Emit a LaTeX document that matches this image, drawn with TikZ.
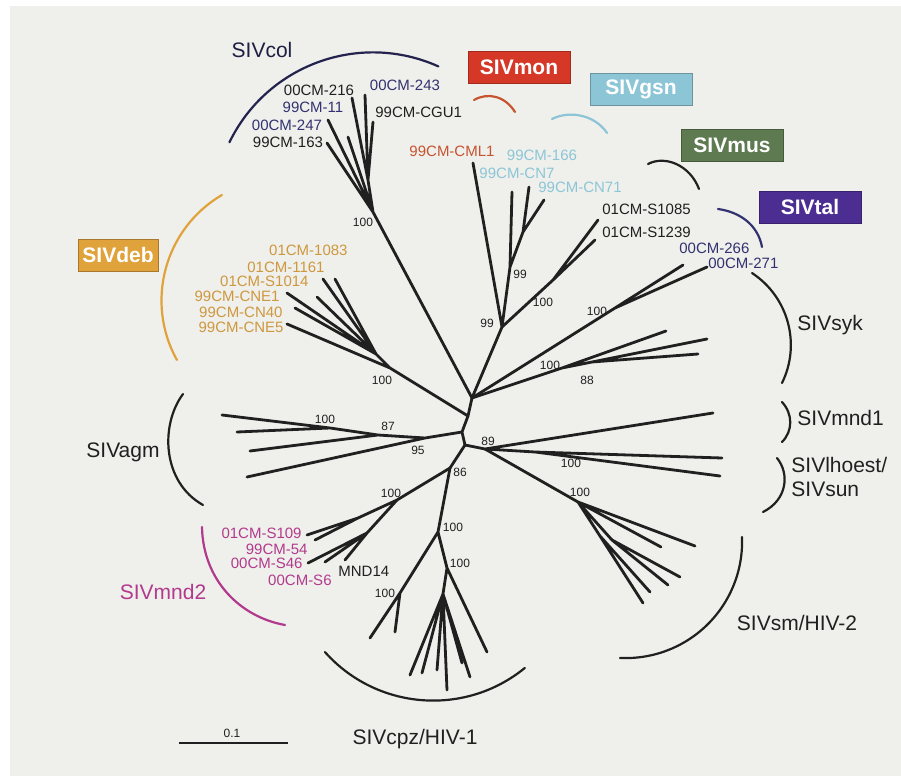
\documentclass[tikz,border=0pt]{standalone}
\usepackage{fontspec}
\setmainfont{Liberation Sans}
\usetikzlibrary{positioning}
\definecolor{bgGrey}{RGB}{239,239,236}
\definecolor{cInk}{RGB}{32,32,32}
\definecolor{cNavy}{RGB}{50,50,112}
\definecolor{cDeb}{RGB}{224,162,58}
\definecolor{cDebTxt}{RGB}{206,152,62}
\definecolor{cMon}{RGB}{214,56,40}
\definecolor{cMonArc}{RGB}{198,84,46}
\definecolor{cGsn}{RGB}{140,198,214}
\definecolor{cMus}{RGB}{94,122,80}
\definecolor{cTal}{RGB}{76,46,146}
\definecolor{cMnd}{RGB}{178,58,140}

\begin{document}
\begin{tikzpicture}[x=0.5pt,y=-0.5pt,
  br/.style={draw=cInk,line width=1.4pt,line cap=round},
  brk/.style={line width=1.1pt,line cap=round},
  lab/.style={inner sep=0pt,font=\fontsize{7.5}{8}\selectfont},
  bs/.style={inner sep=0pt,font=\fontsize{6}{7}\selectfont,text=cInk},
  clade/.style={inner sep=0pt,font=\fontsize{10.5}{12}\selectfont,text=cInk},
  tag/.style={draw=#1!75!black,fill=#1,text=white,font=\fontsize{10.5}{12}\selectfont\bfseries,
    minimum width=51pt,minimum height=16pt,inner sep=0pt}]
  \useasboundingbox (0,0) rectangle (901,776);
  \fill[white] (0,0) rectangle (901,776);
  \fill[bgGrey] (10,6) rectangle (901,776);

  % inner nodes
  \coordinate (n1) at (472,398);
  \coordinate (n2) at (468,416);
  \coordinate (n3) at (462,432);
  \coordinate (n4) at (465,445);
  % SIVcol
  \coordinate (col) at (373,212);
  \coordinate (colA) at (368,180);
  \coordinate (c163) at (327,143);
  \coordinate (c247) at (328,120);
  \coordinate (cX) at (348,137);
  \coordinate (c216) at (352,98);
  \coordinate (c243) at (365,95);
  \coordinate (cCGU) at (373,122);
  % SIVdeb
  \coordinate (deb) at (390,368);
  \coordinate (debA) at (376,354);
  \coordinate (dCNE1) at (287,293);
  \coordinate (dCN40) at (295,308);
  \coordinate (dCNE5) at (287,324);
  \coordinate (dS1014) at (323,279);
  \coordinate (d1161) at (335,279);
  \coordinate (dX) at (317,297);
  % SIVmon / SIVgsn / SIVmus
  \coordinate (mg) at (502,327);
  \coordinate (cml) at (473,163);
  \coordinate (gsn) at (510,267);
  \coordinate (gsnA) at (523,232);
  \coordinate (g166) at (512,192);
  \coordinate (gCN7) at (529,187);
  \coordinate (gCN71) at (544,200);
  \coordinate (mus) at (553,280);
  \coordinate (m1085) at (598,220);
  \coordinate (m1239) at (595,240);
  % SIVtal / SIVsyk
  \coordinate (tal) at (615,308);
  \coordinate (t266) at (683,265);
  \coordinate (t271) at (707,267);
  \coordinate (syk) at (562,368);
  \coordinate (sykA) at (592,362);
  \coordinate (s1) at (666,331);
  \coordinate (s2) at (707,339);
  \coordinate (s3) at (698,354);
  % SIVagm
  \coordinate (a95) at (425,438);
  \coordinate (a87) at (378,435);
  \coordinate (a100) at (330,428);
  \coordinate (ag1) at (222,415);
  \coordinate (ag2) at (237,432);
  \coordinate (ag3) at (250,451);
  \coordinate (ag4) at (247,477);
  % SIVmnd1 / SIVlhoest / SIVsm
  \coordinate (b89) at (485,449);
  \coordinate (mnd1) at (713,413);
  \coordinate (lh) at (535,452);
  \coordinate (lh1) at (722,458);
  \coordinate (lh2) at (720,476);
  \coordinate (sm) at (578,502);
  \coordinate (smA) at (612,540);
  \coordinate (smB) at (600,536);
  \coordinate (sm1) at (695,546);
  \coordinate (sm2) at (661,547);
  \coordinate (sm3) at (680,577);
  \coordinate (sm4) at (668,585);
  \coordinate (sm5) at (650,592);
  \coordinate (sm6) at (643,603);
  % SIVmnd2
  \coordinate (b86) at (450,468);
  \coordinate (mn) at (397,500);
  \coordinate (mnA) at (358,518);
  \coordinate (mnB) at (367,533);
  \coordinate (mS109) at (307,535);
  \coordinate (m54) at (315,540);
  \coordinate (mS46) at (308,563);
  \coordinate (mS6) at (325,562);
  \coordinate (mMND) at (345,560);
  % SIVcpz
  \coordinate (cz1) at (438,532);
  \coordinate (cz2) at (447,568);
  \coordinate (czL) at (400,593);
  \coordinate (czA) at (443,594);
  \coordinate (cl1) at (370,638);
  \coordinate (cl2) at (395,632);
  \coordinate (cr1) at (487,652);
  \coordinate (cr2) at (470,677);
  \coordinate (cr3) at (462,663);
  \coordinate (cr4) at (447,690);
  \coordinate (cr5) at (437,670);
  \coordinate (cr6) at (422,673);
  \coordinate (cr7) at (410,675);

  % branches
  \draw[br] (n1) -- (n2) -- (n3) -- (n4);
  \draw[br] (n1) -- (col) (col) -- (c163) (col) -- (c247) (col) -- (cX) (col) -- (colA)
    (colA) -- (c216) (colA) -- (c243) (colA) -- (cCGU);
  \draw[br] (n2) -- (deb) (deb) -- (dCNE5) (deb) -- (debA) (debA) -- (dCNE1) (debA) -- (dCN40)
    (debA) -- (dX) (debA) -- (dS1014) (debA) -- (d1161);
  \draw[br] (n1) -- (mg) (mg) -- (cml) (mg) -- (gsn) (gsn) -- (g166) (gsn) -- (gsnA)
    (gsnA) -- (gCN7) (gsnA) -- (gCN71) (mg) -- (mus) (mus) -- (m1085) (mus) -- (m1239);
  \draw[br] (n1) -- (tal) (tal) -- (t266) (tal) -- (t271);
  \draw[br] (n1) -- (syk) (syk) -- (s1) (syk) -- (sykA) (sykA) -- (s2) (sykA) -- (s3);
  \draw[br] (n3) -- (a95) (a95) -- (ag4) (a95) -- (a87) (a87) -- (ag3) (a87) -- (a100)
    (a100) -- (ag1) (a100) -- (ag2);
  \draw[br] (n4) -- (b89) (b89) -- (mnd1) (b89) -- (lh) (lh) -- (lh1) (lh) -- (lh2);
  \draw[br] (b89) -- (sm) (sm) -- (sm1) (sm) -- (sm2) (sm) -- (smA) (smA) -- (sm3) (smA) -- (sm4)
    (sm) -- (smB) (smB) -- (sm5) (smB) -- (sm6);
  \draw[br] (n4) -- (b86) (b86) -- (mn) (mn) -- (mnA) (mnA) -- (mS109) (mnA) -- (m54)
    (mn) -- (mnB) (mnB) -- (mS46) (mnB) -- (mS6) (mnB) -- (mMND);
  \draw[br] (b86) -- (cz1) (cz1) -- (czL) (czL) -- (cl1) (czL) -- (cl2) (cz1) -- (cz2)
    (cz2) -- (cr1) (cz2) -- (czA) (czA) -- (cr2) (czA) -- (cr3) (czA) -- (cr4) (czA) -- (cr5)
    (czA) -- (cr6) (czA) -- (cr7);

  % clade brackets
  \draw[brk,cNavy!70!black] (col) ++(205.9:159.6) arc[start angle=205.9,end angle=294.2,radius=159.6];
  \draw[brk,cDeb] (283.8,300.5) ++(239.6:122.3) arc[start angle=239.6,end angle=150.9,radius=122.3];
  \draw[brk,cMonArc] (474,100) .. controls (488,92) and (505,96) .. (515,112);
  \draw[brk,cGsn] (552,119) .. controls (570,110) and (595,115) .. (607,133);
  \draw[brk,cInk] (648,164) .. controls (665,155) and (690,165) .. (699,189);
  \draw[brk,cNavy] (718,209) .. controls (740,212) and (758,225) .. (762,247);
  \draw[brk,cInk] (704.75,345) ++(-56.7:86.1) arc[start angle=-56.7,end angle=26.2,radius=86.1];
  \draw[brk,cInk] (782,402) .. controls (793,414) and (793,431) .. (782,442);
  \draw[brk,cInk] (777,458) .. controls (790,474) and (787,500) .. (763,512);
  \draw[brk,cInk] (625.7,541.7) ++(-2.3:116.4) arc[start angle=-2.3,end angle=92.8,radius=116.4];
  \draw[brk,cInk] (433.2,555.6) ++(138.3:145) arc[start angle=138.3,end angle=50.8,radius=145];
  \draw[brk,cMnd] (202,527) .. controls (203,580) and (240,617) .. (285,625);
  \draw[brk,cInk] (183,394) .. controls (160,425) and (162,482) .. (203,505);

  % clade names
  \node[clade,text=cNavy!60!black] (tCol) at (262,50) {SIVcol};
  \node[tag=cMon] (tMon) at (519,67) {SIVmon};
  \node[tag=cGsn] (tGsn) at (641,89) {SIVgsn};
  \node[tag=cMus] (tMus) at (732,145) {SIVmus};
  \node[tag=cTal] (tTal) at (810,207) {SIVtal};
  \node[tag=cDeb,minimum width=40pt] (tDeb) at (118,255) {SIVdeb};
  \node[clade,anchor=west] (tSyk) at (797,325) {SIVsyk};
  \node[clade,anchor=west] (tMnd1) at (797,418) {SIVmnd1};
  \node[clade,anchor=north west,align=left] (tLh) at (791,457) {SIVlhoest/\\SIVsun};
  \node[clade] (tSm) at (797,623) {SIVsm/HIV-2};
  \node[clade] (tCpz) at (415,739) {SIVcpz/HIV-1};
  \node[clade] (tAgm) at (123,452) {SIVagm};
  \node[clade,text=cMnd] (tMnd2) at (163,592) {SIVmnd2};

  % isolates
  \node[lab,text=cInk] (l216) at (319,90) {00CM-216};
  \node[lab,text=cNavy] (l11) at (313,107) {99CM-11};
  \node[lab,text=cNavy] (l247) at (287,125) {00CM-247};
  \node[lab,text=cInk] (l163) at (288,142) {99CM-163};
  \node[lab,text=cNavy] (l243) at (405,85) {00CM-243};
  \node[lab,text=cInk,anchor=west] (lCGU) at (375,112) {99CM-CGU1};
  \node[lab,text=cDebTxt,anchor=east] (l1083) at (348,250) {01CM-1083};
  \node[lab,text=cDebTxt,anchor=east] (l1161) at (325,267) {01CM-1161};
  \node[lab,text=cDebTxt,anchor=east] (lS1014) at (309,281) {01CM-S1014};
  \node[lab,text=cDebTxt,anchor=east] (lCNE1) at (280,296) {99CM-CNE1};
  \node[lab,text=cDebTxt,anchor=east] (lCN40) at (283,312) {99CM-CN40};
  \node[lab,text=cDebTxt,anchor=east] (lCNE5) at (284,327) {99CM-CNE5};
  \node[lab,text=cMonArc] (lCML) at (452,151) {99CM-CML1};
  \node[lab,text=cGsn] (l166) at (542,155) {99CM-166};
  \node[lab,text=cGsn] (lCN7) at (517,173) {99CM-CN7};
  \node[lab,text=cGsn] (lCN71) at (580,187) {99CM-CN71};
  \node[lab,text=cInk,anchor=west] (lS1085) at (602,209) {01CM-S1085};
  \node[lab,text=cInk,anchor=west] (lS1239) at (602,232) {01CM-S1239};
  \node[lab,text=cNavy,anchor=west] (l266) at (679,248) {00CM-266};
  \node[lab,text=cNavy,anchor=west] (l271) at (708,263) {00CM-271};
  \node[lab,text=cMnd,anchor=east] (lS109) at (302,533) {01CM-S109};
  \node[lab,text=cMnd,anchor=east] (l54) at (308,549) {99CM-54};
  \node[lab,text=cMnd,anchor=east] (lS46) at (303,563) {00CM-S46};
  \node[lab,text=cMnd,anchor=east] (lS6) at (332,580) {00CM-S6};
  \node[lab,text=cInk,anchor=west] (lMND) at (338,571) {MND14};

  % bootstrap values
  \node[bs] (v1) at (363,222) {100};
  \node[bs] (v2) at (382,380) {100};
  \node[bs] (v3) at (487,323) {99};
  \node[bs] (v4) at (520,274) {99};
  \node[bs] (v5) at (543,302) {100};
  \node[bs] (v6) at (597,311) {100};
  \node[bs] (v7) at (550,365) {100};
  \node[bs] (v8) at (587,380) {88};
  \node[bs] (v9) at (325,419) {100};
  \node[bs] (v10) at (388,426) {87};
  \node[bs] (v11) at (418,450) {95};
  \node[bs] (v12) at (488,441) {89};
  \node[bs] (v13) at (571,463) {100};
  \node[bs] (v14) at (580,492) {100};
  \node[bs] (v15) at (460,472) {86};
  \node[bs] (v16) at (391,493) {100};
  \node[bs] (v17) at (453,527) {100};
  \node[bs] (v18) at (385,593) {100};
  \node[bs] (v19) at (460,563) {100};

  % scale bar
  \coordinate (sb1) at (179,743);
  \coordinate (sb2) at (288,743);
  \draw[line width=1.3pt,cInk] (sb1) -- (sb2);
  \node[bs] (sbl) at (232,733) {0.1};
\end{tikzpicture}
\end{document}
